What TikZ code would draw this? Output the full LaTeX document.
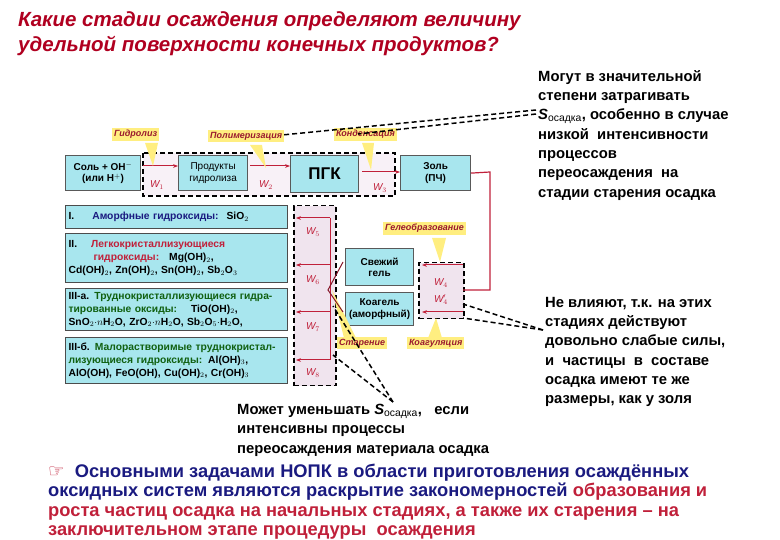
\documentclass[tikz,border=0pt]{standalone}
\usepackage{fontspec}
\setmainfont{Liberation Sans}
\newfontfamily\symf{DejaVu Sans}
\usetikzlibrary{arrows.meta}
\definecolor{ttl}{HTML}{B00020}
\definecolor{cy}{HTML}{A8E6EE}
\definecolor{yl}{HTML}{FFEE80}
\definecolor{pk}{HTML}{F0E4EE}
\definecolor{rd}{HTML}{C0203A}
\definecolor{nv}{HTML}{1A1A80}
\definecolor{dg}{HTML}{106010}
\newcommand{\Sos}{\textit{S}\textsubscript{\mdseries осадка}}
\tikzset{
 bx/.style={draw=gray!70!black,fill=cy,line width=1.2pt,align=center,font=\fontsize{10}{11.5}\selectfont\bfseries,inner sep=1pt},
 ylab/.style={fill=yl,font=\fontsize{9}{10}\selectfont\bfseries\itshape,text=rd!80!black,inner sep=2pt},
 dbox/.style={draw,line width=1.5pt,dash pattern=on 5pt off 3pt,fill=pk},
 dl/.style={line width=1.5pt,dash pattern=on 5pt off 3pt},
 ra/.style={draw=rd,line width=1pt,-{Stealth[length=5pt]}},
 wl/.style={font=\fontsize{10}{11}\selectfont\itshape,text=rd},
 rowbx/.style={draw=black!70,fill=cy,line width=1.2pt,anchor=north west,font=\fontsize{10.3}{13}\selectfont\bfseries,inner xsep=3pt,inner ysep=2pt,align=left,text width=216pt},
 rtxt/.style={anchor=north west,align=left,font=\fontsize{14.8}{19.3}\selectfont\bfseries,inner sep=0pt}
}
\begin{document}
\begin{tikzpicture}[x=1pt,y=-1pt]
\useasboundingbox (0,0) rectangle (780,540);
% title
\node[anchor=north west,inner sep=0,align=left,text=ttl,font=\fontsize{20.5}{25}\selectfont\bfseries\itshape] (title) at (18,11)
 {Какие стадии осаждения определяют величину\\удельной поверхности конечных продуктов?};
% dashed regions
\fill[pk!50] (143,153) rectangle (395,196);
\draw[dl] (143,153) rectangle (395,196);
\node[dbox,minimum width=42pt,minimum height=180pt,anchor=north west] (lbox) at (293,205) {};
\node[dbox,minimum width=45pt,minimum height=56pt,anchor=north west] (wbox) at (418,262) {};
% top boxes
\node[bx,minimum width=75pt,minimum height=35pt,anchor=north west] (salt) at (65,155) {Соль + OH$^{-}$\\(или H$^{+}$)};
\node[bx,minimum width=69pt,minimum height=35pt,anchor=north west] (prod) at (178,155) {\mdseries Продукты\\\mdseries гидролиза};
\node[bx,minimum width=68pt,minimum height=37pt,anchor=north west,font=\fontsize{17}{18}\selectfont\bfseries] (pgk) at (290,155) {ПГК};
\node[bx,minimum width=70pt,minimum height=35pt,anchor=north west] (zol) at (400,155) {Золь\\(ПЧ)};
\node[bx,minimum width=68pt,minimum height=37pt,anchor=north west] (gel) at (345,248) {Свежий\\гель};
\node[bx,minimum width=68pt,minimum height=33pt,anchor=north west] (koag) at (345,292) {Коагель\\(аморфный)};
% top arrows
\coordinate (a1) at (143,166); \coordinate (a2) at (250,166); \coordinate (a3) at (362,172);
\draw[ra] (a1) -- (prod.west|-a1);
\draw[ra] (a2) -- (pgk.west|-a2);
\draw[ra] (a3) -- (zol.west|-a3);
\node[wl] (w1) at (157,185) {W$_1$};
\node[wl] (w2) at (266,185) {W$_2$};
\node[wl] (w3) at (380,188) {W$_3$};
% yellow labels
\node[ylab,anchor=north west] (gidr) at (112,128) {Гидролиз};
\node[ylab,anchor=north west] (polim) at (208,130) {Полимеризация};
\node[ylab,anchor=north west] (kond) at (334,128) {Конденсация};
\node[ylab,anchor=north west] (gelob) at (383,222) {Гелеобразование};
\node[ylab,anchor=north west] (koagl) at (407,337) {Коагуляция};
\node[ylab,anchor=north west] (star) at (337,337) {Старение};
\fill[yl] (145,143) -- (158,143) -- (153,166) -- cycle;
\fill[yl] (250,145) -- (262,145) -- (266,168) -- cycle;
\fill[yl] (362,143) -- (374,143) -- (371,170) -- cycle;
\fill[yl] (432,238) -- (446,238) -- (440,262) -- cycle;
\fill[yl] (428,338) -- (442,338) -- (436,318) -- cycle;
\fill[yl] (344,338) -- (356,338) -- (332,290) -- cycle;
% zol to W4
\draw[draw=rd,line width=1.2pt] (zol.east) -- (490,172) -- (490,290) -- (463,290);
\draw[ra] (463,265) -- (422,265);
\draw[ra] (463,312) -- (422,312);
\node[wl] (w4) at (441,283) {W$_4$};
\node[wl] (w4p) at (441,300) {W$_4'$};
% left arrows
\draw[draw=rd,line width=1pt] (330,218) -- (330,360);
\foreach \y in {218,265,312,360}{\draw[ra] (330,\y) -- (296,\y);}
\node[wl] (w5) at (313,232) {W$_5$};
\node[wl] (w6) at (313,280) {W$_6$};
\node[wl] (w7) at (313,327) {W$_7$};
\node[wl] (w8) at (313,373) {W$_8$};
\draw[draw=rd!70!black,line width=1pt] (343,262) -- (328,290) -- (343,312);
% rows
\node[rowbx,minimum height=23pt] (r1) at (65,205)
 {I.\hspace{18pt}\textcolor{nv}{Аморфные гидроксиды:}\hspace{8pt}SiO$_2$};
\node[rowbx,minimum height=49pt] (r2) at (65,233)
 {II.\hspace{14pt}\textcolor{rd}{Легкокристаллизующиеся}\\
 \hspace{25pt}\textcolor{rd}{гидроксиды:}\hspace{10pt}Mg(OH)$_2$,\\
 Cd(OH)$_2$, Zn(OH)$_2$, Sn(OH)$_2$, Sb$_2$O$_3$};
\node[rowbx,minimum height=42pt] (r3) at (65,288)
 {III-а. \textcolor{dg}{Труднокристаллизующиеся гидра-}\\
 \textcolor{dg}{тированные оксиды:}\hspace{14pt}TiO(OH)$_2$,\\
 SnO$_2$$\cdot n$H$_2$O, ZrO$_2$$\cdot n$H$_2$O, Sb$_2$O$_5$$\cdot$H$_2$O,};
\node[rowbx,minimum height=46pt] (r4) at (65,337)
 {III-б. \textcolor{dg}{Малорастворимые труднокристал-}\\
 \textcolor{dg}{лизующиеся гидроксиды:}\hspace{6pt}Al(OH)$_3$,\\
 AlO(OH), FeO(OH), Cu(OH)$_2$, Cr(OH)$_3$};
% right texts
\node[rtxt] (t1) at (538,70) {Могут в значительной\\степени затрагивать\\\Sos, особенно в случае\\низкой\ \ интенсивности\\процессов\\переосаждения\ \ на\\стадии старения осадка};
\node[rtxt] (t2) at (545,297) {Не влияют, т.к. на этих\\стадиях действуют\\довольно слабые силы,\\и\ \ частицы\ \ в\ \ составе\\осадка имеют те же\\размеры, как у золя};
\node[rtxt] (t3) at (237,404) {Может уменьшать \Sos,\ \ \ если\\интенсивны процессы\\переосаждения материала осадка};
% dashed callouts
\coordinate (c1) at (536,110); \coordinate (c2) at (536,114);
\coordinate (c3) at (543,330); \coordinate (c4) at (393,402);
\draw[dl] (c1) -- (282,135);
\draw[dl] (c2) -- (358,134);
\draw[dl] (c3) -- (463,304);
\draw[dl] (c3) -- (463,318);
\draw[dl] (c4) -- (333,306);
\draw[dl] (c4) -- (333,355);
% bottom paragraph
\node[anchor=north west,align=left,inner sep=0,font=\fontsize{18.3}{19.2}\selectfont\bfseries] (para) at (48,464)
 {{\symf\textcolor{rd}{☞}}\ \ \textcolor{nv}{Основными задачами НОПК в области приготовления осаждённых}\\
 \textcolor{nv}{оксидных систем являются раскрытие закономерностей} \textcolor{rd}{образования и}\\
 \textcolor{rd}{роста частиц осадка на начальных стадиях, а также их старения – на}\\
 \textcolor{rd}{заключительном этапе процедуры\ \ осаждения}};
\end{tikzpicture}
\end{document}
